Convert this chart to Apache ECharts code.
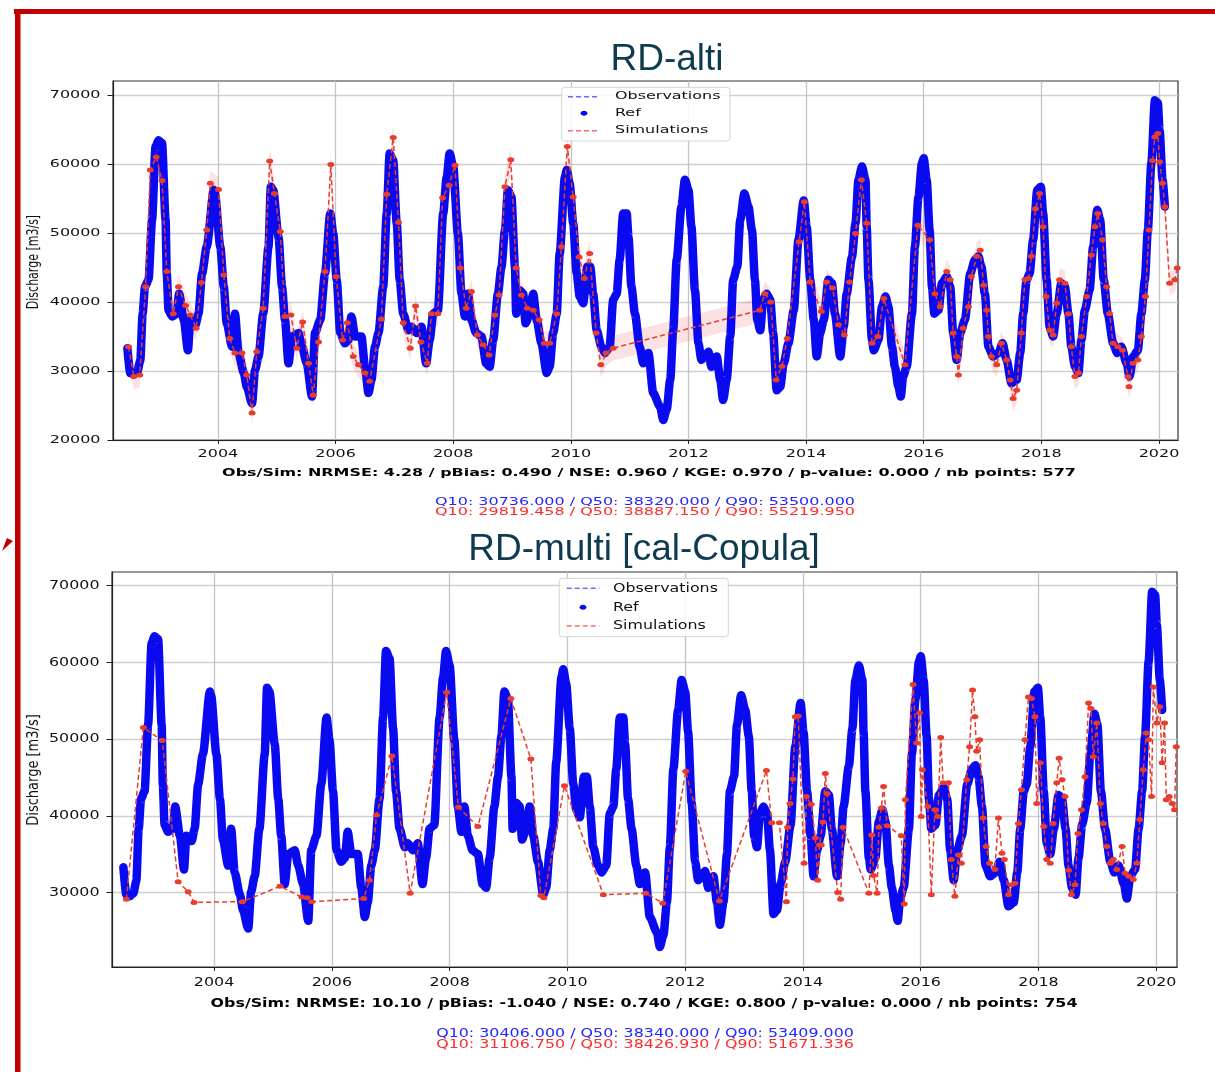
<!DOCTYPE html>
<html><head><meta charset="utf-8">
<script src="https://cdn.jsdelivr.net/npm/echarts@6/dist/echarts.min.js"></script>
<style>html,body{margin:0;padding:0;background:#fff}#c{width:1215px;height:1072px}</style>
</head><body><div id="c"></div>
<script>
// ---------- DATA ----------
const titles = ['RD-alti', 'RD-multi [cal-Copula]'];
const yAxisName = 'Discharge [m3/s]';
const xTickLabels = [2004, 2006, 2008, 2010, 2012, 2014, 2016, 2018, 2020];
const yTickLabelsAlti = [20000, 30000, 40000, 50000, 60000, 70000];
const yTickLabelsMulti = [30000, 40000, 50000, 60000, 70000];
const legendNames = ['Observations', 'Ref', 'Simulations'];

const statsAlti = 'Obs/Sim: NRMSE: 4.28 / pBias: 0.490 / NSE: 0.960 / KGE: 0.970 / p-value: 0.000 / nb points: 577';
const qObsAlti = 'Q10: 30736.000 / Q50: 38320.000 / Q90: 53500.000';
const qSimAlti = 'Q10: 29819.458 / Q50: 38887.150 / Q90: 55219.950';
const statsMulti = 'Obs/Sim: NRMSE: 10.10 / pBias: -1.040 / NSE: 0.740 / KGE: 0.800 / p-value: 0.000 / nb points: 754';
const qObsMulti = 'Q10: 30406.000 / Q50: 38340.000 / Q90: 53409.000';
const qSimMulti = 'Q10: 31106.750 / Q50: 38426.930 / Q90: 51671.336';

// Reference discharge [year, m3/s]
const ref = [
[2002.46,33300],[2002.51,29700],[2002.57,29500],[2002.63,29900],[2002.68,31500],[2002.72,38300],[2002.76,42200],[2002.82,43200],[2002.88,51900],[2002.94,62500],[2002.99,63400],[2003.05,63000],[2003.11,51900],[2003.13,44100],[2003.16,38800],[2003.22,37900],[2003.30,38300],[2003.34,41200],[2003.42,37400],[2003.49,33000],[2003.53,37400],[2003.62,36700],[2003.67,38300],[2003.73,44100],[2003.81,48000],[2003.93,56200],[2003.95,55700],[2004.04,48000],[2004.10,42200],[2004.15,36900],[2004.24,33500],[2004.29,38300],[2004.35,32600],[2004.44,29700],[2004.49,27700],[2004.58,25300],[2004.63,30100],[2004.69,32100],[2004.77,38300],[2004.86,48000],[2004.90,56700],[2004.94,56200],[2005.03,49400],[2005.09,42200],[2005.14,37400],[2005.20,31100],[2005.26,35000],[2005.37,35500],[2005.43,33500],[2005.51,31100],[2005.60,26300],[2005.65,35500],[2005.74,37400],[2005.82,44100],[2005.91,52800],[2005.96,49900],[2006.02,43200],[2006.08,35500],[2006.16,34000],[2006.22,34500],[2006.27,37900],[2006.33,35000],[2006.44,35000],[2006.50,30600],[2006.56,26800],[2006.61,28700],[2006.67,33500],[2006.73,35500],[2006.81,42200],[2006.87,52800],[2006.92,61500],[2006.98,60500],[2007.04,51400],[2007.09,43200],[2007.15,38300],[2007.24,35900],[2007.29,36400],[2007.38,35500],[2007.46,36400],[2007.54,31100],[2007.60,34500],[2007.66,38300],[2007.74,38800],[2007.83,52800],[2007.89,58100],[2007.94,61500],[2008.00,59600],[2008.08,49900],[2008.14,41200],[2008.20,37900],[2008.25,41200],[2008.31,37400],[2008.39,35500],[2008.48,35000],[2008.56,31100],[2008.62,30600],[2008.68,34500],[2008.76,41200],[2008.82,45000],[2008.88,50400],[2008.93,56200],[2008.99,55200],[2009.05,45100],[2009.07,38300],[2009.13,41700],[2009.19,41200],[2009.23,36900],[2009.30,38300],[2009.36,41200],[2009.42,37400],[2009.50,34000],[2009.59,29700],[2009.64,30600],[2009.70,35500],[2009.76,38300],[2009.81,47000],[2009.90,58100],[2009.93,59100],[2009.98,57200],[2010.04,51400],[2010.10,44100],[2010.15,40800],[2010.21,39800],[2010.28,45100],[2010.33,45100],[2010.38,41200],[2010.44,35900],[2010.52,33500],[2010.58,32600],[2010.66,33500],[2010.72,40300],[2010.78,41200],[2010.83,46100],[2010.89,52800],[2010.95,52800],[2010.98,49400],[2011.03,42200],[2011.09,38300],[2011.17,33500],[2011.23,31100],[2011.32,32600],[2011.40,26800],[2011.52,24800],[2011.57,22900],[2011.63,24400],[2011.69,28700],[2011.74,35900],[2011.80,46100],[2011.88,53800],[2011.94,57700],[2012.00,56200],[2012.05,50900],[2012.11,41700],[2012.17,34000],[2012.22,31600],[2012.28,32100],[2012.34,32800],[2012.39,30600],[2012.48,32100],[2012.54,28700],[2012.59,25800],[2012.65,28700],[2012.71,35000],[2012.76,43200],[2012.83,45100],[2012.88,51900],[2012.95,55700],[2013.02,53800],[2013.08,50400],[2013.13,43200],[2013.17,37400],[2013.22,35900],[2013.27,40300],[2013.33,41200],[2013.39,40300],[2013.44,35500],[2013.50,27200],[2013.56,27700],[2013.62,31100],[2013.70,34000],[2013.79,38800],[2013.87,49000],[2013.96,54700],[2014.01,50900],[2014.07,43200],[2014.13,37400],[2014.18,32100],[2014.24,35500],[2014.30,37400],[2014.38,43200],[2014.44,42700],[2014.49,38300],[2014.58,32100],[2014.64,36400],[2014.69,41200],[2014.78,46500],[2014.84,51400],[2014.89,57700],[2014.95,59600],[2015.01,57700],[2015.03,50900],[2015.06,43200],[2015.12,34500],[2015.15,33000],[2015.23,34500],[2015.29,39300],[2015.35,40800],[2015.40,39300],[2015.46,33500],[2015.51,30600],[2015.57,27700],[2015.61,26300],[2015.65,29200],[2015.71,30600],[2015.80,38300],[2015.85,48000],[2015.91,55200],[2015.97,60100],[2016.00,60800],[2016.05,57700],[2016.10,50400],[2016.14,42200],[2016.18,38300],[2016.25,38800],[2016.31,42700],[2016.39,43700],[2016.45,42200],[2016.50,35500],[2016.56,31600],[2016.62,35500],[2016.70,37400],[2016.79,44100],[2016.87,46100],[2016.93,46600],[2016.98,45100],[2017.04,41200],[2017.10,33500],[2017.18,32100],[2017.27,32600],[2017.34,34000],[2017.41,31600],[2017.49,28200],[2017.58,28700],[2017.64,32600],[2017.69,38300],[2017.75,43200],[2017.80,44100],[2017.86,49000],[2017.93,56200],[2017.99,56700],[2018.03,52800],[2018.09,43200],[2018.14,36400],[2018.20,35000],[2018.26,38300],[2018.34,42700],[2018.40,42200],[2018.46,38300],[2018.51,33500],[2018.57,30600],[2018.63,29700],[2018.68,34500],[2018.74,38800],[2018.82,41700],[2018.88,48000],[2018.95,53300],[2019.00,51900],[2019.06,43200],[2019.13,38300],[2019.22,34000],[2019.29,32600],[2019.36,33500],[2019.45,31100],[2019.50,29200],[2019.56,32100],[2019.64,33000],[2019.70,38300],[2019.76,43200],[2019.81,50400],[2019.87,60100],[2019.93,69200],[2019.98,68800],[2020.01,64900],[2020.06,57700],[2020.10,53800]
];

// Simulations, RD-alti [year, m3/s]
const simAlti = [
[2002.48,33500],[2002.57,29200],[2002.67,29400],[2002.77,42200],[2002.85,59100],[2002.95,61000],[2003.05,57600],[2003.13,44400],[2003.24,38300],[2003.33,42200],[2003.45,39500],[2003.53,38100],[2003.63,36200],[2003.72,42800],[2003.81,50400],[2003.87,57200],[2004.01,56300],[2004.10,43900],[2004.20,34700],[2004.29,32600],[2004.41,32600],[2004.49,29400],[2004.58,23900],[2004.66,32800],[2004.77,39100],[2004.88,60400],[2004.96,55700],[2005.06,50200],[2005.14,37900],[2005.24,38100],[2005.34,33300],[2005.44,37100],[2005.54,31100],[2005.62,26500],[2005.71,34200],[2005.82,44400],[2005.92,59900],[2006.01,43700],[2006.12,34500],[2006.20,37000],[2006.30,32100],[2006.39,30900],[2006.50,29700],[2006.58,28500],[2006.78,37500],[2006.87,55600],[2006.98,63800],[2007.07,51500],[2007.15,37000],[2007.27,33300],[2007.36,39400],[2007.45,34200],[2007.56,31100],[2007.63,38300],[2007.74,38300],[2007.82,55100],[2007.93,56900],[2008.03,59800],[2008.12,44900],[2008.22,39100],[2008.31,41500],[2008.41,35200],[2008.51,33800],[2008.61,32300],[2008.71,38100],[2008.78,41000],[2008.88,56700],[2008.98,60600],[2009.07,44900],[2009.16,41000],[2009.26,39100],[2009.36,38800],[2009.46,37400],[2009.55,34000],[2009.64,34000],[2009.76,38300],[2009.84,48000],[2009.94,62500],[2010.04,55200],[2010.14,46500],[2010.23,43400],[2010.32,47000],[2010.43,35500],[2010.51,30900],[2010.60,32600],[2010.72,33300],[2013.21,38800],[2013.30,41200],[2013.40,40000],[2013.49,28700],[2013.59,30700],[2013.68,34700],[2013.88,48700],[2013.97,54500],[2014.07,42900],[2014.26,38600],[2014.35,42900],[2014.45,42000],[2014.55,36700],[2014.65,35200],[2014.74,42900],[2014.84,49900],[2014.94,57700],[2015.03,51400],[2015.12,34000],[2015.22,35000],[2015.32,40500],[2015.68,30900],[2015.90,51100],[2016.10,49000],[2016.19,41200],[2016.28,39300],[2016.39,44400],[2016.45,43200],[2016.50,35500],[2016.56,32100],[2016.59,29400],[2016.67,36200],[2016.76,39300],[2016.81,43700],[2016.90,46600],[2016.96,47500],[2017.02,42400],[2017.07,38800],[2017.10,35000],[2017.15,32100],[2017.24,30900],[2017.32,34000],[2017.41,31600],[2017.47,28700],[2017.52,26000],[2017.58,27200],[2017.66,35500],[2017.72,43200],[2017.78,43400],[2017.83,46600],[2017.90,53500],[2017.97,55700],[2018.03,50900],[2018.08,40800],[2018.14,35900],[2018.20,35200],[2018.26,39800],[2018.31,43200],[2018.40,42700],[2018.46,38300],[2018.51,33500],[2018.57,29200],[2018.63,29700],[2018.68,35000],[2018.77,40800],[2018.85,46800],[2018.91,50900],[2018.96,52800],[2019.04,49000],[2019.11,42200],[2019.16,38300],[2019.22,34000],[2019.30,33500],[2019.38,33000],[2019.47,29200],[2019.49,27700],[2019.56,31100],[2019.64,31600],[2019.70,35000],[2019.77,40800],[2019.83,50400],[2019.89,60500],[2019.93,63900],[2019.98,64400],[2020.01,60300],[2020.06,57200],[2020.10,53800],[2020.18,42700],[2020.27,43200],[2020.31,44900]
];
const simAltiSpread = 1800; // half-width of the uncertainty band

// Simulations, RD-multi [cal-Copula] [year, m3/s]
const simMulti = [
[2002.51,29100],[2002.80,51500],[2003.12,49800],[2003.39,31400],[2003.56,30100],[2003.66,28700],[2004.48,28800],[2005.12,30800],[2005.49,29400],[2005.58,29300],[2005.66,28800],[2006.54,29200],[2006.64,31600],[2006.76,40100],[2007.02,47800],[2007.33,29900],[2007.95,56100],[2008.15,41100],[2008.48,38600],[2009.04,55300],[2009.38,47400],[2009.55,29600],[2009.60,29300],[2009.95,43900],[2010.61,29700],[2011.33,29900],[2011.62,28600],[2012.01,45800],[2012.58,28900],[2013.38,45900],[2013.47,39100],[2013.60,39100],[2013.72,28800],[2013.74,38500],[2013.78,41600],[2013.83,44800],[2013.87,52900],[2013.92,53000],[2014.02,33800],[2014.06,42500],[2014.14,41500],[2014.21,37100],[2014.25,31600],[2014.28,36200],[2014.31,36200],[2014.34,39200],[2014.38,45500],[2014.41,42900],[2014.59,30000],[2014.64,29100],[2014.68,38500],[2015.12,29900],[2015.17,37500],[2015.20,32200],[2015.26,29900],[2015.29,38500],[2015.33,41000],[2015.37,43800],[2015.43,38700],[2015.67,37400],[2015.72,28500],[2015.74,42100],[2015.87,57100],[2015.93,49500],[2015.98,53400],[2016.01,39900],[2016.03,46000],[2016.12,41200],[2016.18,29700],[2016.24,40800],[2016.29,39900],[2016.34,50200],[2016.38,44300],[2016.47,44300],[2016.52,34300],[2016.58,29500],[2016.64,34900],[2016.69,33800],[2016.78,44700],[2016.83,49000],[2016.88,56400],[2016.92,52900],[2016.95,48400],[2017.00,49900],[2017.06,39700],[2017.11,36000],[2017.17,33800],[2017.26,33000],[2017.32,39700],[2017.38,35100],[2017.42,34300],[2017.49,29700],[2017.54,31000],[2017.60,31200],[2017.66,39000],[2017.71,43400],[2017.77,49900],[2017.83,55500],[2017.88,55300],[2017.94,52900],[2017.97,41600],[2018.03,46900],[2018.09,38600],[2018.14,34300],[2018.20,33800],[2018.25,39000],[2018.31,44300],[2018.35,47500],[2018.40,44700],[2018.45,42500],[2018.51,32900],[2018.56,29700],[2018.62,31000],[2018.67,37700],[2018.73,40800],[2018.79,45100],[2018.85,54700],[2018.89,54000],[2018.93,47700],[2018.99,52100],[2019.05,41600],[2019.10,39000],[2019.16,36000],[2019.22,33800],[2019.27,34300],[2019.33,33000],[2019.42,36000],[2019.47,32500],[2019.53,32100],[2019.61,31700],[2019.67,33800],[2019.72,39500],[2019.78,46000],[2019.83,50800],[2019.87,49900],[2019.92,42500],[2019.95,56800],[2020.01,52100],[2020.06,54200],[2020.10,46900],[2020.14,52100],[2020.17,42100],[2020.22,42500],[2020.27,41600],[2020.31,40800],[2020.34,49000]
];

// ---------- LAYOUT / STYLE ----------
const BLUE = '#0a0af0', RED = '#e83c2c', TXT = '#111', FONT = 'DejaVu Sans';
const panels = [
  {grid:{left:113, top:81, width:1065, height:359}, x:[2002.216, 2020.323], y:[20000, 72000], yTicks:yTickLabelsAlti,
   sim:simAlti, band:true, fs:10.5, sx:1.52, xlabDy:14.7, title:titles[0], titleY:60, titleX:667,
   nameY:262, stats:statsAlti, statsY:473, qObs:qObsAlti, qSim:qSimAlti, qY:[502, 512.7], statsX:649,
   leg:{x:561.7, y:87.3, w:168.3, h:53.7, rows:[96.7, 113.3, 130.7], hx:[568, 600], tx:615}},
  {grid:{left:112, top:572, width:1065, height:395}, x:[2002.267, 2020.352], y:[20280, 71785], yTicks:yTickLabelsMulti,
   sim:simMulti, band:false, fs:12.5, sx:1.27, xlabDy:16, title:titles[1], titleY:550, titleX:644,
   nameY:770, stats:statsMulti, statsY:1003.3, qObs:qObsMulti, qSim:qSimMulti, qY:[1034, 1045], statsX:644,
   leg:{x:559.3, y:578.3, w:169, h:58.4, rows:[588.3, 607.3, 626], hx:[566.7, 599.3], tx:613}}
];

const grids = [], xAxes = [], yAxes = [], series = [], graphics = [];

panels.forEach((p, i) => {
  grids.push(Object.assign({show:true, borderColor:'#333', borderWidth:1.2, backgroundColor:'#fff'}, p.grid));
  xAxes.push({type:'value', gridIndex:i, min:p.x[0], max:p.x[1],
    axisLine:{show:true, onZero:false, lineStyle:{color:'#222', width:1.2}},
    axisTick:{show:true, customValues:xTickLabels, length:4, lineStyle:{color:'#222'}},
    axisLabel:{show:false, customValues:xTickLabels},
    splitLine:{show:true, lineStyle:{color:'#c4c4c4', width:1.3}}});
  yAxes.push({type:'value', gridIndex:i, min:p.y[0], max:p.y[1],
    axisLine:{show:true, onZero:false, lineStyle:{color:'#222', width:1.2}},
    axisTick:{show:true, customValues:p.yTicks, length:5.5, lineStyle:{color:'#222'}},
    axisLabel:{show:false, customValues:p.yTicks},
    splitLine:{show:true, lineStyle:{color:'#cfcfcf', width:1.3}}});

  // tick labels placed through the axes' own scales
  series.push({type:'custom', xAxisIndex:i, yAxisIndex:i, silent:true, clip:false, z:10,
    data: xTickLabels.map(v => [v, p.y[0]]),
    renderItem: (params, api) => {
      const c = api.coord([api.value(0), api.value(1)]);
      return {type:'text', x:c[0], y:c[1] + p.xlabDy, scaleX:p.sx,
        style:{text:String(api.value(0)), fontFamily:FONT, fontSize:p.fs, fill:TXT, align:'center', verticalAlign:'middle'}};
    }});
  series.push({type:'custom', xAxisIndex:i, yAxisIndex:i, silent:true, clip:false, z:10,
    data: p.yTicks.map(v => [p.x[0], v]),
    renderItem: (params, api) => {
      const c = api.coord([api.value(0), api.value(1)]);
      return {type:'text', x:c[0] - 12.5, y:c[1], scaleX:p.sx,
        style:{text:String(api.value(1)), fontFamily:FONT, fontSize:p.fs, fill:TXT, align:'right', verticalAlign:'middle'}};
    }});

  if (p.band) {
    series.push({type:'custom', xAxisIndex:i, yAxisIndex:i, silent:true, clip:true, z:1,
      data: p.sim,
      renderItem: (params, api) => {
        if (params.dataIndex !== 0) return null;
        const up = p.sim.map(d => api.coord([d[0], d[1] + simAltiSpread]));
        const lo = p.sim.slice().reverse().map(d => api.coord([d[0], d[1] - simAltiSpread]));
        return {type:'polygon', shape:{points: up.concat(lo)}, style:{fill:'rgba(236,120,120,0.22)'}};
      }});
  }
  series.push({name:legendNames[0], type:'line', xAxisIndex:i, yAxisIndex:i, data:ref, showSymbol:false, z:2,
    lineStyle:{color:'#5a5aff', width:1, type:'dashed'}, silent:true});
  series.push({name:legendNames[1], type:'line', xAxisIndex:i, yAxisIndex:i, data:ref, showSymbol:false, z:3,
    smooth:0.25, smoothMonotone:'x',
    lineStyle:{color:BLUE, width:8.5, cap:'round', join:'round'}, silent:true});
  series.push({name:legendNames[2], type:'line', xAxisIndex:i, yAxisIndex:i, data:p.sim, z:4,
    symbol:'circle', symbolSize:[7, 5], showSymbol:true, showAllSymbol:true,
    itemStyle:{color:RED}, lineStyle:{color:RED, width:1.5, type:[5, 3]}, silent:true});

  // title
  graphics.push({type:'text', x:p.titleX, y:p.titleY, z:20,
    style:{text:p.title, fontFamily:'Liberation Sans', fontSize:37, fill:'#0e3b50', align:'center', verticalAlign:'middle',
           textAlign:'center', textVerticalAlign:'middle'}});
  // y axis name
  graphics.push({type:'text', x:34, y:p.nameY, rotation:Math.PI/2, scaleY:p.sx, z:20,
    style:{text:yAxisName, fontFamily:FONT, fontSize:p.fs + 0.5, fill:TXT, align:'center', verticalAlign:'middle',
           textAlign:'center', textVerticalAlign:'middle'}});
  // stats lines
  graphics.push({type:'text', x:p.statsX, y:p.statsY, scaleX:p.sx, z:20,
    style:{text:p.stats, fontFamily:FONT, fontWeight:'bold', fontSize:p.fs, fill:'#000', align:'center', verticalAlign:'middle',
           textAlign:'center', textVerticalAlign:'middle'}});
  graphics.push({type:'text', x:645, y:p.qY[0], scaleX:p.sx, z:20,
    style:{text:p.qObs, fontFamily:FONT, fontSize:p.fs, fill:'#2424ff', align:'center', verticalAlign:'middle',
           textAlign:'center', textVerticalAlign:'middle'}});
  graphics.push({type:'text', x:645, y:p.qY[1], scaleX:p.sx, z:20,
    style:{text:p.qSim, fontFamily:FONT, fontSize:p.fs, fill:'#ff2b2b', align:'center', verticalAlign:'middle',
           textAlign:'center', textVerticalAlign:'middle'}});
  // legend
  const L = p.leg;
  graphics.push({type:'rect', z:30, shape:{x:L.x, y:L.y, width:L.w, height:L.h, r:3},
    style:{fill:'rgba(255,255,255,0.85)', stroke:'#d4d4d4', lineWidth:1}});
  graphics.push({type:'line', z:31, shape:{x1:L.hx[0], y1:L.rows[0], x2:L.hx[1], y2:L.rows[0]},
    style:{stroke:'#6a6aff', lineWidth:1.5, lineDash:[5, 3]}});
  graphics.push({type:'ellipse', z:31, shape:{cx:(L.hx[0] + L.hx[1]) / 2, cy:L.rows[1], rx:3.4, ry:2.5}, style:{fill:BLUE}});
  graphics.push({type:'line', z:31, shape:{x1:L.hx[0], y1:L.rows[2], x2:L.hx[1], y2:L.rows[2]},
    style:{stroke:'#ff6a6a', lineWidth:1.5, lineDash:[5, 3]}});
  legendNames.forEach((n, k) => {
    graphics.push({type:'text', x:L.tx, y:L.rows[k], scaleX:p.sx, z:31,
      style:{text:n, fontFamily:FONT, fontSize:p.fs, fill:TXT, align:'left', verticalAlign:'middle',
             textAlign:'left', textVerticalAlign:'middle'}});
  });
});

// slide frame decoration
graphics.push({type:'rect', z:40, shape:{x:14, y:9, width:1201, height:5}, style:{fill:'#c00000'}});
graphics.push({type:'rect', z:40, shape:{x:15, y:9, width:5.5, height:1063}, style:{fill:'#c00000'}});
graphics.push({type:'polygon', z:40, shape:{points:[[2, 551], [13, 541], [7, 538]]}, style:{fill:'#c00000'}});

const chart = echarts.init(document.getElementById('c'), null, {renderer:'canvas'});
chart.setOption({
  animation:false, backgroundColor:'#fff',
  grid:grids, xAxis:xAxes, yAxis:yAxes, series:series, graphic:{elements:graphics}
});
</script></body></html>
